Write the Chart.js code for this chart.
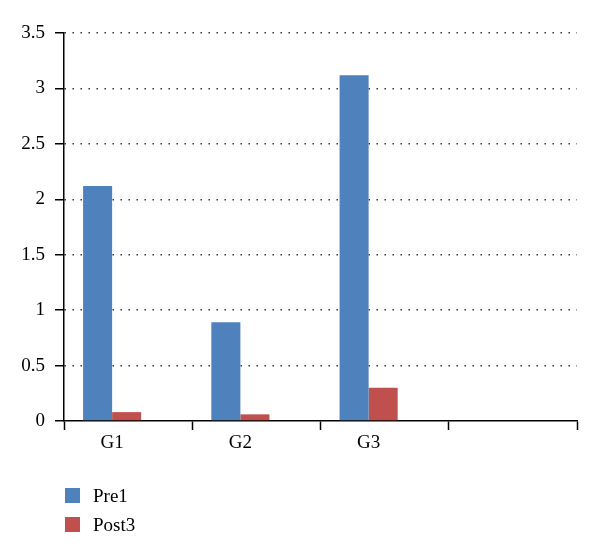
<!DOCTYPE html>
<html>
<head>
<meta charset="utf-8">
<script src="https://cdn.jsdelivr.net/npm/chart.js@4"></script>
<style>
  html, body { margin: 0; padding: 0; background: #fff; }
  #wrap { position: relative; width: 600px; height: 555px; }
  .legend { position: absolute; left: 65px; font: 19px "Liberation Serif", serif; color: #000; }
  .legend div { display: flex; align-items: center; height: 29px; }
  .legend span { display: inline-block; width: 15px; height: 15px; margin-right: 13px; }
</style>
</head>
<body>
<div id="wrap">
  <canvas id="chart" width="600" height="555"></canvas>
  <div class="legend" id="legend" style="top:481px"></div>
</div>
<script>
const categories = ["G1", "G2", "G3", ""];
const pre1 = [2.12, 0.89, 3.12];
const post3 = [0.08, 0.06, 0.30];
const seriesNames = ["Pre1", "Post3"];
const colors = ["#4F81BD", "#C0504D"];

const font = { family: "'Liberation Serif', serif", size: 19 };

// bars sit a little left of the category centre, as in the source
const shiftBars = {
  id: "shiftBars",
  beforeDatasetsDraw(chart) {
    chart.ctx.save();
    chart.ctx.translate(-16, 0);
  },
  afterDatasetsDraw(chart) {
    chart.ctx.restore();
  },
};

new Chart(document.getElementById("chart"), {
  type: "bar",
  data: {
    labels: categories,
    datasets: [
      { label: seriesNames[0], data: pre1, backgroundColor: colors[0] },
      { label: seriesNames[1], data: post3, backgroundColor: colors[1] },
    ],
  },
  options: {
    responsive: false,
    animation: false,
    categoryPercentage: 0.453,
    barPercentage: 1,
    layout: { padding: { top: 33, right: 23, left: 0, bottom: 0 } },
    plugins: {
      legend: { display: false },
      tooltip: { enabled: false },
    },
    scales: {
      x: {
        offset: true,
        grid: {
          offset: true,
          drawOnChartArea: false,
          color: "#000",
          tickLength: 9,
          tickWidth: 1.5,
        },
        border: { color: "#000", width: 1.5 },
        ticks: { font, color: "#000", labelOffset: -16, padding: 2 },
        afterFit(scale) { scale.height = 134; },
      },
      y: {
        min: 0,
        max: 3.5,
        ticks: {
          stepSize: 0.5,
          font,
          color: "#000",
          padding: 10,
          callback: (v) => String(v),
        },
        grid: {
          color: (ctx) => (ctx.tick && ctx.tick.value === 0 ? "rgba(0,0,0,0)" : "#333"),
          lineWidth: 1.5,
          tickColor: "#000",
          tickLength: 9,
          tickWidth: 1.5,
          tickBorderDash: [],
        },
        border: { color: "#000", width: 1.5, dash: [1.5, 6.5] },
        afterFit(scale) { scale.width = 64; },
      },
    },
  },
  plugins: [shiftBars],
});

document.getElementById("legend").innerHTML = seriesNames
  .map((n, i) => `<div><span style="background:${colors[i]}"></span>${n}</div>`)
  .join("");
</script>
</body>
</html>
